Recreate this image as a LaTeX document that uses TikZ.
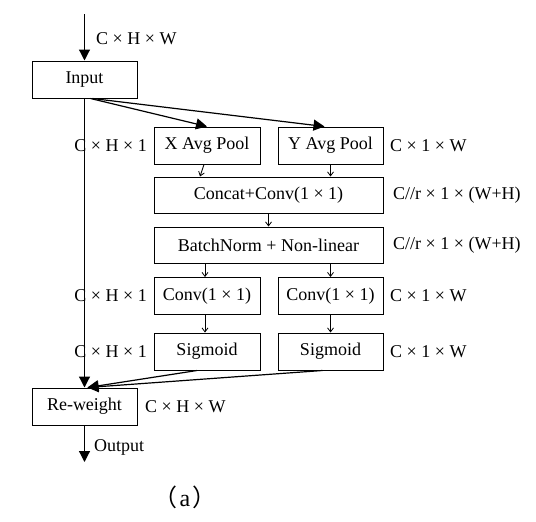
\documentclass[tikz,border=0pt]{standalone}
\usepackage{fontspec}
\setmainfont{Liberation Serif}
\newfontfamily\cjk{Noto Sans CJK SC}
\usetikzlibrary{arrows.meta,calc}
\tikzset{
  blk/.style={draw,line width=1pt,minimum height=37pt,inner sep=0pt,font=\fontsize{18}{21}\selectfont},
  lbl/.style={inner sep=0pt,font=\fontsize{18}{21}\selectfont},
  big/.style={line width=1.2pt,-{Triangle[length=11pt,width=11pt]}},
  sml/.style={line width=0.8pt,-{Straight Barb[length=4pt,width=6pt]}},
}
\begin{document}
\begin{tikzpicture}[x=1pt,y=-1pt]
\useasboundingbox (0,0) rectangle (536,522);
\node[blk,minimum width=105pt] (input) at (84.5,79.5) {Input};
\node[blk,minimum width=106pt] (xpool) at (207,145.5) {X Avg Pool};
\node[blk,minimum width=105pt] (ypool) at (330.5,145.5) {Y Avg Pool};
\node[blk,minimum width=229pt,minimum height=36pt] (concat) at (268.5,195) {Concat+Conv(1 × 1)};
\node[blk,minimum width=229pt,minimum height=36pt] (bn) at (268.5,245) {BatchNorm + Non-linear};
\node[blk,minimum width=106pt] (convx) at (207,296) {Conv(1 × 1)};
\node[blk,minimum width=105pt] (convy) at (330.5,296) {Conv(1 × 1)};
\node[blk,minimum width=106pt] (sigx) at (207,351.5) {Sigmoid};
\node[blk,minimum width=105pt] (sigy) at (330.5,351.5) {Sigmoid};
\node[blk,minimum width=105pt] (rew) at (84.5,406.5) {Re-weight};
\coordinate (top) at (84.5,14);
\coordinate (out) at (84.5,462);

\draw[big] (top) -- (input.north);
\draw[big] (input.south) -- (rew.north);
\draw[big] (rew.south) -- (out);
\draw[big] ([xshift=6pt]input.south) -- (xpool.north);
\draw[big] ([xshift=8pt]input.south) -- ([xshift=-6pt]ypool.north);
\draw[big] ([xshift=-10pt]sigx.south) -- ([xshift=3pt]rew.north);
\draw[big] ([xshift=-8pt]sigy.south) -- ([xshift=3pt]rew.north);

\draw[sml] ([xshift=-3pt]xpool.south) -- ([xshift=-68.5pt]concat.north);
\draw[sml] (ypool.south) -- ([xshift=62pt]concat.north);
\draw[sml] (concat.south) -- (bn.north);
\draw[sml] ([xshift=-63.5pt]bn.south) -- ([xshift=-2pt]convx.north);
\draw[sml] ([xshift=62pt]bn.south) -- (convy.north);
\draw[sml] ([xshift=-2pt]convx.south) -- ([xshift=-2pt]sigx.north);
\draw[sml] (convy.south) -- (sigy.north);

\node[lbl,anchor=west] (l0) at (96,39) {C × H × W};
\node[lbl,anchor=east] (l1) at (147,145.5) {C × H × 1};
\node[lbl,anchor=west] (r1) at (390,145.5) {C × 1 × W};
\node[lbl,anchor=west] (r2) at (393,195) {C//r × 1 × (W+H)};
\node[lbl,anchor=west] (r3) at (393,245) {C//r × 1 × (W+H)};
\node[lbl,anchor=east] (l4) at (147,296) {C × H × 1};
\node[lbl,anchor=west] (r4) at (390,296) {C × 1 × W};
\node[lbl,anchor=east] (l5) at (147,351.5) {C × H × 1};
\node[lbl,anchor=west] (r5) at (390,351.5) {C × 1 × W};
\node[lbl,anchor=west] (r6) at (145,407) {C × H × W};
\node[lbl,anchor=west] (outl) at (94,447) {Output};
\node[lbl,font=\fontsize{24}{28}\selectfont] (cap) at (185,497) {{\cjk （}\kern2pt a\kern2pt{\cjk ）}};
\end{tikzpicture}
\end{document}
